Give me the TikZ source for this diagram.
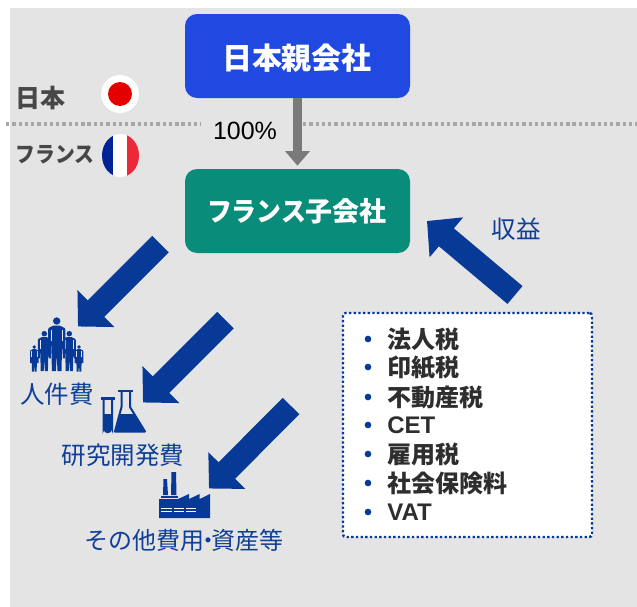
\documentclass[tikz,border=0pt]{standalone}
\usepackage{fontspec}
\usetikzlibrary{arrows.meta}
\setmainfont{Liberation Sans}
\newfontfamily\jp{Noto Sans CJK JP}
\definecolor{bggray}{HTML}{E4E4E4}
\definecolor{oyablue}{HTML}{1F49E0}
\definecolor{kogreen}{HTML}{0A8C7B}
\definecolor{navy}{HTML}{063A96}
\definecolor{labelblue}{HTML}{0F3F96}
\definecolor{lightline}{HTML}{A6A6A6}
\definecolor{arrowgray}{HTML}{7A7A7A}
\definecolor{frblue}{HTML}{002395}
\definecolor{frred}{HTML}{ED2939}
\newcommand\pxfont[1]{\fontsize{\the\dimexpr#1pt*3/4\relax}{\the\dimexpr#1pt*9/10\relax}\selectfont}
\newcommand\manicon[3]{%
  \begin{scope}[shift={(#1,#2)},scale=#3]
    \fill[navy] (0,0) circle (3.7);
    \fill[navy] (-3,4.5) -- (3,4.5) -- (8,7) -- (8.7,9) -- (8.7,33) -- (6,33) -- (5.5,20) -- (4.8,50) -- (0.8,50) -- (0,33)
      -- (-0.8,50) -- (-4.8,50) -- (-5.5,20) -- (-6,33) -- (-8.7,33) -- (-8.7,9) -- (-8,7) -- cycle;
    \draw[bggray,line width=0.3pt] (5.5,9) -- (5.5,20) (-5.5,9) -- (-5.5,20);
  \end{scope}}
\tikzset{
  corpbox/.style={rounded corners=9pt,minimum width=168.75pt,minimum height=63pt,inner sep=0pt,text=white},
  bluelabel/.style={anchor=base,inner sep=0pt,text=labelblue,font=\jp\pxfont{24.5}},
  country/.style={anchor=base,inner sep=0pt,text=black!72},
  blockarrow/.style={draw=navy,line width=17.5pt,-{Triangle[length=19pt,width=38pt,fill=navy]}},
  borderline/.style={lightline,line width=2.5pt,dash pattern=on 2.5pt off 2.2pt},
  listitem/.style={anchor=base west,inner sep=0pt,text=black!82,font=\jp\bfseries\pxfont{24}},
  listlatin/.style={anchor=base west,inner sep=0pt,text=black!82,font=\bfseries\pxfont{24}},
  dotitem/.style={circle,fill=navy,inner sep=0pt,minimum size=5pt},
}
\begin{document}
\begin{tikzpicture}[x=0.75pt,y=-0.75pt]
\useasboundingbox (0,0) rectangle (637,607);
\fill[bggray] (10,8) rectangle (637,607);

% border line
\coordinate (bl1) at (6,124);
\coordinate (bl2) at (201,124);
\coordinate (br1) at (303,124);
\coordinate (br2) at (637,124);
\draw[borderline] (bl1) -- (bl2);
\draw[borderline] (br1) -- (br2);

% companies
\node[corpbox,fill=oyablue] (parent) at (297.5,56) {};
\node[corpbox,fill=kogreen] (sub) at (297.5,211) {};
\node[anchor=base,inner sep=0pt,text=white,font=\jp\bfseries\pxfont{30}] (parenttext) at (297,69) {日本親会社};
\node[anchor=base,inner sep=0pt,text=white,font=\jp\bfseries\pxfont{27}] (subtext) at (297,221) {\scalebox{0.92}[1]{フランス}子会社};
\draw[arrowgray,line width=6.75pt,shorten >=2.25pt,-{Triangle[length=11pt,width=18pt]}] (parent.south) -- (sub.north);
\node[anchor=base,inner sep=0pt,font=\pxfont{25}] (pct) at (245,139) {100\%};

% countries
\node[country,font=\jp\bfseries\pxfont{25}] (jptext) at (41,107.5) {日本};
\node[country,font=\jp\bfseries\pxfont{22}] (frtext) at (55,162.5) {\scalebox{0.9}[1]{フランス}};
\fill[white] (120,94) circle (19);
\fill[red!90!black] (120,94) circle (12);
\begin{scope}
  \clip (120.5,155.5) ellipse (18.5 and 21.5);
  \fill[frblue] (100,130) rectangle (113,180);
  \fill[white] (113,130) rectangle (127,180);
  \fill[frred] (127,130) rectangle (142,180);
\end{scope}

% block arrows
\coordinate (a1s) at (160.5,244); \coordinate (a1e) at (78,326.5);
\coordinate (a2s) at (225.5,320); \coordinate (a2e) at (143,402.5);
\coordinate (a3s) at (291,406);   \coordinate (a3e) at (209,488.5);
\coordinate (a4s) at (515,295);   \coordinate (a4e) at (427,221);
\draw[blockarrow] (a1s) -- (a1e);
\draw[blockarrow] (a2s) -- (a2e);
\draw[blockarrow] (a3s) -- (a3e);
\draw[blockarrow] (a4s) -- (a4e);

% people icon
\manicon{34.3}{347}{0.49}
\manicon{79}{347}{0.49}
\manicon{44.3}{333.7}{0.75}
\manicon{69.3}{333.7}{0.75}
\manicon{56.7}{321}{1}

% flask icon
\fill[navy] (101,397) rectangle (115,400);
\draw[navy,line width=1.5pt] (103.5,400) -- (103.5,429) arc[start angle=180,end angle=360,radius=4.3] -- (112.1,400);
\fill[navy] (103.5,414) rectangle (112.1,429);
\fill[navy] (107.8,429) circle (4.3);
\fill[navy] (118.3,389.5) rectangle (132.7,392);
\draw[navy,line width=1.5pt,line join=round] (121.5,392) -- (121.5,407) -- (115,431.5) -- (145,431.5) -- (130,407) -- (130,392);
\fill[navy,line join=round] (119.8,414) -- (134.2,414) -- (145,431.5) -- (115,431.5) -- cycle;

% factory icon
\fill[navy] (159,499) -- (178,499) -- (189,494) -- (189,499) -- (199.7,494) -- (199.7,499) -- (210,494) -- (210,518) -- (159,518) -- cycle;
\fill[navy] (161,495.7) rectangle (178,498.2);
\fill[navy] (163.5,479) -- (167,479) -- (168,495) -- (163,495) -- cycle;
\fill[navy] (171.5,472) -- (176,472) -- (176.5,495) -- (171,495) -- cycle;
\foreach \yy in {508,511}{
  \draw[white,line width=0.7pt] (161,\yy) -- (172,\yy) (173.5,\yy) -- (184,\yy) (186,\yy) -- (196,\yy);
}

% cost labels
\node[bluelabel] (l1) at (57,403) {人件費};
\node[bluelabel] (l2) at (123,464) {研究開発費};
\node[bluelabel,font=\jp\pxfont{24}] (l3) at (184,549) {その他費用\kern-6.5pt・\kern-6.5pt資産等};
\node[bluelabel] (l4) at (516,238) {収益};

% tax box
\node[draw=navy,fill=white,line width=1.8pt,dash pattern=on 1.8pt off 1.7pt,rounded corners=2pt,minimum width=186.75pt,minimum height=168pt,inner sep=0pt] (taxbox) at (467.5,425) {};
\foreach \n/\y in {1/339,2/367,3/397,4/425,5/454,6/483,7/512}{
  \node[dotitem] (d\n) at (368,\y) {};
}
\node[listitem] (t1) at (387,348) {法人税};
\node[listitem] (t2) at (387,376) {印紙税};
\node[listitem] (t3) at (387,406) {不動産税};
\node[listlatin] (t4) at (387,433.5) {CET};
\node[listitem] (t5) at (387,463) {雇用税};
\node[listitem] (t6) at (387,492) {社会保険料};
\node[listlatin] (t7) at (387,520.5) {VAT};
\end{tikzpicture}
\end{document}
